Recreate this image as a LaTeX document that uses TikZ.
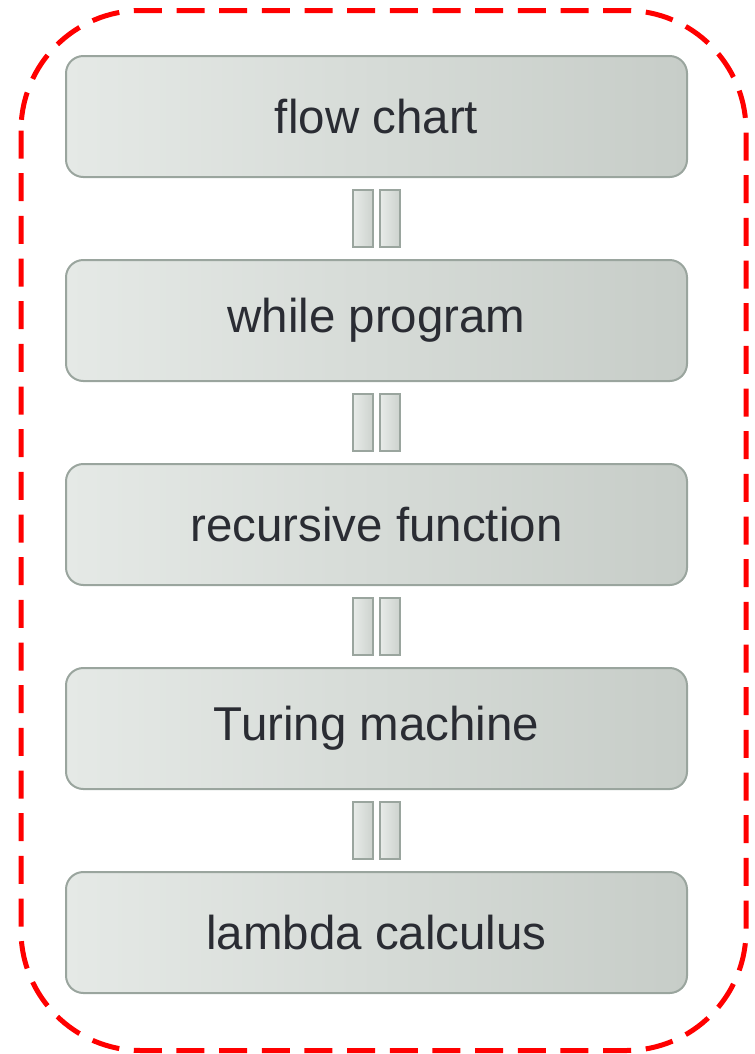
\documentclass[tikz,border=0pt]{standalone}
\usepackage{fontspec}
\setmainfont{Liberation Sans}
\usetikzlibrary{calc}
\definecolor{boxedge}{HTML}{9AA59E}
\definecolor{boxlight}{HTML}{E5E9E6}
\definecolor{boxdark}{HTML}{C7CDC8}
\definecolor{labelink}{HTML}{2A2C33}
\definecolor{frame}{HTML}{FF0000}
\tikzset{
  stage/.style={draw=boxedge, line width=1.5pt, rounded corners=13pt,
    left color=boxlight, right color=boxdark,
    minimum width=465.75pt, minimum height=90.75pt,
    text=labelink, font=\fontsize{35.6pt}{40pt}\selectfont, inner sep=0pt},
  linkbar/.style={draw=boxedge, line width=1.5pt,
    left color=boxlight!90!white, right color=boxdark!90!white,
    minimum width=15pt, minimum height=42.75pt, inner sep=0pt}
}
\begin{document}
\begin{tikzpicture}[x=0.75pt,y=-0.75pt]
\useasboundingbox (0,0) rectangle (754,1054);
% dashed enclosure
\draw[frame, line width=3.75pt, dash pattern=on 21pt off 11pt, rounded corners=90pt]
  (21,10.5) rectangle (746,1050.5);
% stages
\node[stage] (s1) at (376.5,116.5) {flow chart};
\node[stage] (s2) at (376.5,320.5) {while program};
\node[stage] (s3) at (376.5,524.5) {recursive function};
\node[stage] (s4) at (376.5,728.5) {Turing machine};
\node[stage] (s5) at (376.5,932.5) {lambda calculus};
% equivalence links between consecutive stages
\foreach \a/\b in {s1/s2,s2/s3,s3/s4,s4/s5}{
  \coordinate (\a-\b) at ($(\a.south)!0.5!(\b.north)$);
  \node[linkbar] (\a-\b-l) at ($(\a-\b)+(-13.5,0)$) {};
  \node[linkbar] (\a-\b-r) at ($(\a-\b)+(13.5,0)$) {};
}
\end{tikzpicture}
\end{document}
